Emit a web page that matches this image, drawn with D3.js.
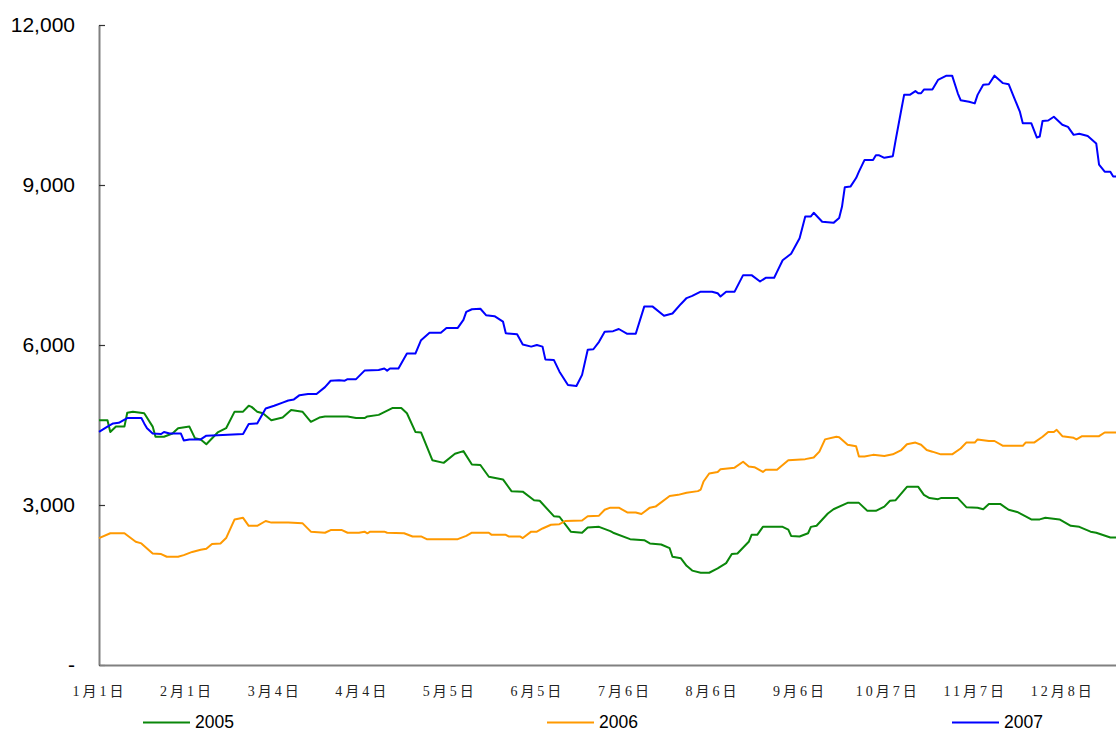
<!DOCTYPE html>
<html>
<head>
<meta charset="utf-8">
<script src="https://cdn.jsdelivr.net/npm/d3@7"></script>
<style>
  html, body { margin: 0; padding: 0; background: #fff; }
  svg { display: block; }
</style>
</head>
<body>
<svg id="chart" width="1116" height="731"></svg>
<script>
// Day-of-year positions of the category labels along the bottom axis
const tickDays = [0, 31, 62, 93, 124, 155, 186, 217, 248, 279, 310, 341];
const tickLabels = ["1月1日", "2月1日", "3月4日", "4月4日", "5月5日", "6月5日",
                    "7月6日", "8月6日", "9月6日", "10月7日", "11月7日", "12月8日"];
const yTicks = [0, 3000, 6000, 9000, 12000];
const seriesNames = ["2005", "2006", "2007"];
const seriesColors = ["#0a870a", "#ff9900", "#0000ff"];

// [day of year, value]
const data2005 = [
  [0,4590],[3,4590],[4,4370],[6,4470],[9,4470],[10,4730],[12,4750],[16,4720],[19,4470],
  [20,4280],[23,4280],[26,4340],[28,4440],[32,4470],[34,4250],[36,4230],[38,4140],
  [42,4360],[45,4440],[48,4750],[51,4750],[53,4860],[54,4840],[56,4750],[58,4720],
  [61,4590],[65,4640],[68,4780],[72,4750],[75,4560],[78,4640],[80,4660],[88,4660],
  [91,4630],[94,4630],[95,4660],[99,4690],[104,4820],[107,4820],[109,4720],[112,4370],
  [114,4360],[118,3840],[122,3790],[126,3960],[129,4010],[132,3760],[135,3750],
  [138,3530],[143,3480],[146,3260],[150,3250],[154,3090],[156,3080],[161,2790],
  [163,2780],[167,2500],[171,2480],[173,2580],[177,2590],[181,2510],[182,2480],
  [188,2360],[193,2340],[195,2280],[199,2260],[202,2190],[203,2030],[206,2000],
  [208,1860],[210,1770],[213,1730],[216,1730],[219,1810],[222,1910],[224,2080],
  [226,2090],[230,2310],[231,2440],[233,2440],[235,2590],[242,2590],[244,2540],
  [245,2420],[248,2410],[251,2470],[252,2590],[254,2610],[258,2840],[260,2920],
  [265,3040],[269,3040],[272,2890],[275,2890],[278,2970],[280,3080],[282,3090],
  [286,3340],[290,3340],[292,3190],[294,3130],[297,3110],[298,3130],[304,3130],
  [307,2960],[311,2950],[313,2920],[315,3020],[319,3020],[322,2910],[325,2870],
  [330,2730],[333,2730],[335,2760],[340,2730],[344,2610],[347,2590],[351,2500],
  [353,2480],[358,2390],[360,2390]
];

const data2006 = [
  [0,2380],[4,2470],[9,2470],[13,2310],[15,2280],[19,2090],[22,2080],[24,2030],
  [28,2030],[30,2060],[33,2120],[36,2160],[38,2180],[40,2270],[43,2280],[45,2380],
  [48,2730],[51,2760],[53,2610],[56,2610],[59,2700],[61,2670],[67,2670],[72,2660],
  [75,2500],[80,2480],[82,2530],[86,2530],[88,2480],[92,2480],[94,2500],[95,2470],
  [96,2500],[101,2500],[102,2480],[108,2470],[111,2410],[114,2410],[116,2360],
  [127,2360],[130,2420],[132,2480],[138,2480],[139,2440],[144,2440],[145,2410],
  [149,2410],[150,2380],[153,2500],[155,2500],[157,2560],[160,2630],[163,2640],
  [165,2700],[171,2710],[173,2790],[177,2800],[179,2910],[181,2950],[184,2950],
  [187,2860],[190,2860],[192,2830],[195,2950],[197,2970],[202,3170],[205,3190],
  [208,3230],[212,3260],[213,3290],[214,3440],[216,3590],[219,3620],[220,3670],
  [225,3700],[228,3810],[230,3720],[232,3710],[235,3620],[236,3660],[240,3660],
  [244,3840],[250,3860],[253,3890],[255,4000],[257,4230],[261,4280],[262,4270],
  [265,4130],[268,4100],[269,3910],[271,3910],[274,3940],[278,3920],[281,3950],
  [284,4030],[286,4140],[289,4170],[291,4130],[293,4030],[295,4000],[298,3950],
  [302,3950],[305,4060],[307,4170],[310,4170],[311,4230],[315,4200],[317,4200],
  [320,4110],[327,4110],[328,4170],[331,4170],[334,4280],[336,4370],[338,4370],
  [339,4410],[341,4290],[345,4260],[346,4230],[348,4290],[354,4290],[356,4360],
  [360,4360]
];

const data2007 = [
  [0,4370],[3,4470],[5,4530],[7,4540],[10,4630],[15,4630],[16,4530],[17,4440],
  [19,4340],[22,4330],[23,4370],[25,4340],[29,4340],[30,4210],[32,4230],[36,4230],
  [38,4300],[42,4310],[51,4330],[53,4520],[56,4530],[59,4810],[62,4860],[65,4920],
  [67,4960],[69,4980],[71,5060],[74,5080],[77,5080],[80,5210],[82,5330],[85,5340],
  [87,5330],[88,5360],[91,5360],[94,5520],[99,5530],[101,5560],[102,5520],[103,5560],
  [106,5560],[109,5840],[112,5840],[114,6090],[117,6230],[121,6230],[123,6320],
  [127,6320],[129,6470],[130,6620],[132,6670],[135,6680],[137,6560],[140,6540],
  [143,6440],[144,6220],[148,6200],[150,6010],[153,5970],[155,6000],[157,5970],
  [158,5730],[161,5720],[163,5500],[166,5250],[169,5230],[171,5440],[173,5910],
  [175,5920],[177,6060],[179,6250],[182,6260],[184,6300],[187,6210],[190,6210],
  [193,6720],[196,6720],[200,6550],[203,6590],[206,6770],[208,6880],[210,6920],
  [213,7000],[217,7000],[219,6970],[220,6910],[222,7000],[225,7000],[228,7310],
  [231,7310],[234,7190],[236,7260],[239,7260],[240,7370],[242,7590],[245,7710],
  [248,8000],[250,8410],[252,8410],[253,8480],[256,8310],[260,8290],[262,8380],
  [263,8590],[264,8960],[266,8970],[268,9130],[269,9250],[271,9470],[274,9470],
  [275,9560],[276,9560],[278,9510],[281,9540],[282,9840],[284,10410],[285,10690],
  [287,10690],[289,10760],[290,10720],[291,10720],[292,10790],[295,10790],
  [297,10970],[300,11050],[302,11050],[304,10720],[305,10590],[308,10560],
  [310,10530],[311,10690],[313,10880],[315,10890],[317,11050],[320,10910],
  [322,10890],[324,10630],[326,10370],[327,10160],[330,10160],[332,9890],[333,9910],
  [334,10200],[336,10210],[338,10280],[341,10130],[343,10090],[345,9940],[347,9960],
  [350,9920],[353,9780],[354,9380],[356,9250],[358,9250],[359,9160],[360,9160]
];

const allSeries = [data2005, data2006, data2007];

const svg = d3.select("#chart");
const plot = { left: 99, right: 1116, top: 25, bottom: 665 };

const x = d3.scaleLinear().domain([0, 360]).range([plot.left, plot.right]);
const y = d3.scaleLinear().domain([0, 12000]).range([plot.bottom, plot.top]);

// Value axis: short inward ticks, "-" in place of zero
const yAxis = d3.axisLeft(y)
  .tickValues(yTicks)
  .tickSizeInner(-6)
  .tickSizeOuter(0)
  .tickPadding(24)
  .tickFormat(d => d === 0 ? "-" : d3.format(",")(d));

const gy = svg.append("g")
  .attr("transform", `translate(${plot.left},0)`)
  .call(yAxis);
gy.select(".domain").attr("stroke", "#808080").attr("stroke-width", 2);
gy.selectAll(".tick line").attr("stroke", "#333").attr("stroke-width", 1.2);
gy.selectAll(".tick text")
  .attr("fill", "#000")
  .style("font-family", "Liberation Sans, Arial, sans-serif")
  .style("font-size", "21px");

// Date axis: labels only
const xAxis = d3.axisBottom(x)
  .tickValues(tickDays)
  .tickSize(0)
  .tickPadding(21)
  .tickFormat((d, i) => tickLabels[i]);

const gx = svg.append("g")
  .attr("transform", `translate(0,${plot.bottom})`)
  .call(xAxis);
gx.select(".domain").attr("stroke", "#808080").attr("stroke-width", 2);
gx.selectAll(".tick text")
  .attr("fill", "#222")
  .style("font-family", "Liberation Serif, Noto Sans CJK SC, serif")
  .style("font-size", "14px")
  .style("letter-spacing", "3px");

// Series lines
const line = d3.line()
  .x(d => x(d[0]))
  .y(d => y(d[1]));

svg.append("g")
  .selectAll("path")
  .data(allSeries)
  .join("path")
  .attr("d", line)
  .attr("fill", "none")
  .attr("stroke", (d, i) => seriesColors[i])
  .attr("stroke-width", 2)
  .attr("stroke-linejoin", "round");

// Legend along the bottom
const legendX = [143, 547, 952];
const legend = svg.append("g")
  .selectAll("g")
  .data(seriesNames)
  .join("g")
  .attr("transform", (d, i) => `translate(${legendX[i]},722.5)`);
legend.append("line")
  .attr("x1", 0).attr("x2", 47)
  .attr("y1", 0).attr("y2", 0)
  .attr("stroke", (d, i) => seriesColors[i])
  .attr("stroke-width", 2);
legend.append("text")
  .attr("x", 52)
  .attr("y", 5.5)
  .style("font-family", "Liberation Sans, Arial, sans-serif")
  .style("font-size", "17.5px")
  .text(d => d);
</script>
</body>
</html>
